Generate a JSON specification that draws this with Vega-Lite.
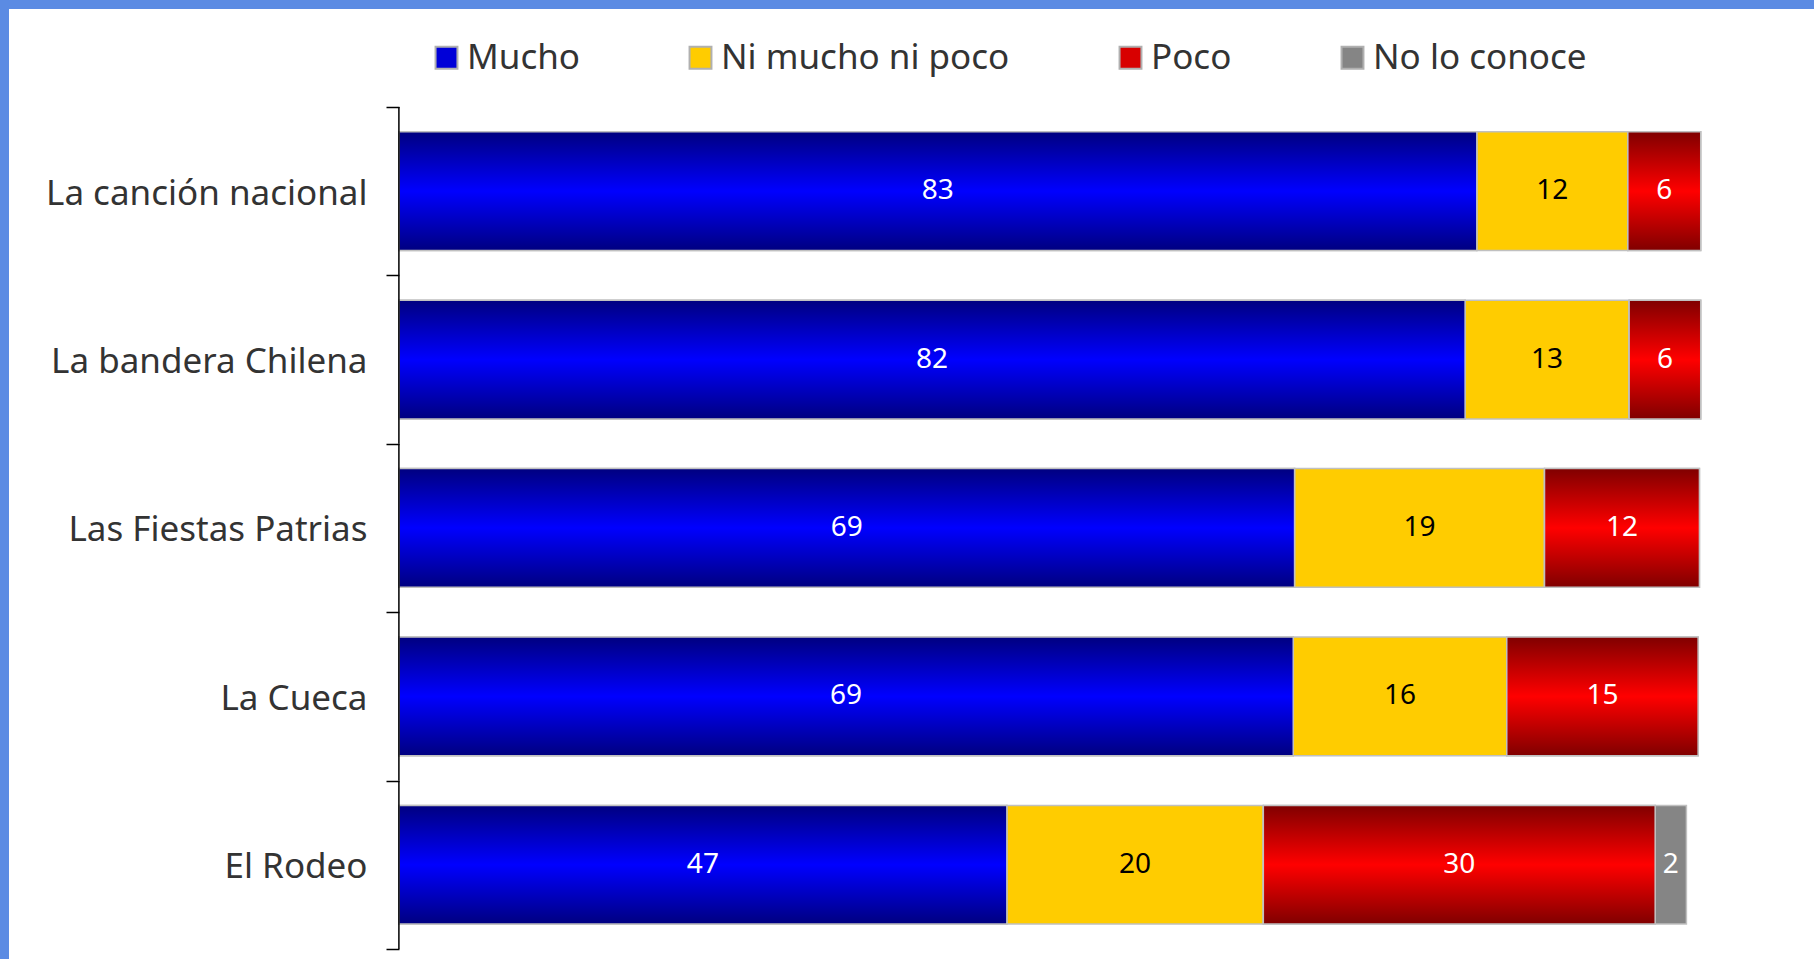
{
  "$schema": "https://vega.github.io/schema/vega-lite/v6.json",
  "width": 1805,
  "height": 950,
  "autosize": {"type": "none"},
  "padding": {"left": 9, "top": 9, "right": 0, "bottom": 0},
  "background": "#5B8BE3",
  "config": {"view": {"fill": "white", "stroke": null}, "font": "Noto Sans"},
  "data": {"values": [
    {"cat": "La canción nacional", "resp": "Mucho", "orden": 1, "value": 82.8},
    {"cat": "La canción nacional", "resp": "Ni mucho ni poco", "orden": 2, "value": 11.6},
    {"cat": "La canción nacional", "resp": "Poco", "orden": 3, "value": 5.6},
    {"cat": "La bandera Chilena", "resp": "Mucho", "orden": 1, "value": 81.9},
    {"cat": "La bandera Chilena", "resp": "Ni mucho ni poco", "orden": 2, "value": 12.6},
    {"cat": "La bandera Chilena", "resp": "Poco", "orden": 3, "value": 5.5},
    {"cat": "Las Fiestas Patrias", "resp": "Mucho", "orden": 1, "value": 68.8},
    {"cat": "Las Fiestas Patrias", "resp": "Ni mucho ni poco", "orden": 2, "value": 19.2},
    {"cat": "Las Fiestas Patrias", "resp": "Poco", "orden": 3, "value": 11.9},
    {"cat": "La Cueca", "resp": "Mucho", "orden": 1, "value": 68.7},
    {"cat": "La Cueca", "resp": "Ni mucho ni poco", "orden": 2, "value": 16.4},
    {"cat": "La Cueca", "resp": "Poco", "orden": 3, "value": 14.7},
    {"cat": "El Rodeo", "resp": "Mucho", "orden": 1, "value": 46.7},
    {"cat": "El Rodeo", "resp": "Ni mucho ni poco", "orden": 2, "value": 19.7},
    {"cat": "El Rodeo", "resp": "Poco", "orden": 3, "value": 30.1},
    {"cat": "El Rodeo", "resp": "No lo conoce", "orden": 4, "value": 2.4}
  ]},
  "transform": [
    {"stack": "value", "groupby": ["cat"], "sort": [{"field": "orden", "order": "ascending"}], "as": ["v0", "v1"]},
    {"calculate": "(datum.v0 + datum.v1) / 2", "as": "mid"}
  ],
  "encoding": {
    "y": {
      "field": "cat",
      "type": "nominal",
      "sort": ["La canción nacional", "La bandera Chilena", "Las Fiestas Patrias", "La Cueca", "El Rodeo"],
      "title": null,
      "scale": {"paddingInner": 0, "paddingOuter": 0.3206, "align": 0.907},
      "axis": {
        "orient": "left",
        "offset": -390,
        "domain": false,
        "tickBand": "extent",
        "tickSize": 13,
        "tickColor": "black",
        "tickWidth": 1.5,
        "labelFont": "Noto Sans",
        "labelFontSize": 35,
        "labelColor": "#333333",
        "labelPadding": 19,
        "labelLimit": 600,
        "labelOffset": 2,
        "title": null
      }
    }
  },
  "layer": [
    {
      "mark": {"type": "bar", "height": {"band": 0.705}, "stroke": "#c0c0c0", "strokeWidth": 1.5},
      "encoding": {
        "x": {"field": "v0", "type": "quantitative", "scale": {"domain": [-29.95, 108.7], "nice": false, "zero": false}, "axis": null},
        "x2": {"field": "v1"},
        "color": {
          "field": "resp",
          "type": "nominal",
          "scale": {
            "domain": ["Mucho", "Ni mucho ni poco", "Poco", "No lo conoce"],
            "range": ["#0000D8", "#FFCC00", "#D80000", "#858585"]
          },
          "legend": {
            "title": null,
            "orient": "none",
            "legendX": 420,
            "legendY": 31,
            "direction": "horizontal",
            "columns": 4,
            "symbolType": "square",
            "symbolSize": 480,
            "symbolStrokeWidth": 2,
            "symbolStrokeColor": "#b0b0b0",
            "labelFont": "Noto Sans",
            "labelFontSize": 35,
            "labelColor": "#333333",
            "labelOffset": 3,
            "labelLimit": 600,
            "columnPadding": 103,
            "padding": 0
          }
        }
      }
    },
    {
      "transform": [{"filter": "datum.resp === 'Mucho'"}],
      "mark": {
        "type": "bar",
        "height": {"band": 0.705},
        "stroke": "#c0c0c0",
        "strokeWidth": 1.5,
        "fill": {"gradient": "linear", "x1": 0, "y1": 0, "x2": 0, "y2": 1, "stops": [{"offset": 0, "color": "#000080"}, {"offset": 0.5, "color": "#0000FF"}, {"offset": 1, "color": "#000080"}]}
      },
      "encoding": {
        "x": {"field": "v0", "type": "quantitative"},
        "x2": {"field": "v1"}
      }
    },
    {
      "transform": [{"filter": "datum.resp === 'Poco'"}],
      "mark": {
        "type": "bar",
        "height": {"band": 0.705},
        "stroke": "#c0c0c0",
        "strokeWidth": 1.5,
        "fill": {"gradient": "linear", "x1": 0, "y1": 0, "x2": 0, "y2": 1, "stops": [{"offset": 0, "color": "#800000"}, {"offset": 0.5, "color": "#FF0000"}, {"offset": 1, "color": "#800000"}]}
      },
      "encoding": {
        "x": {"field": "v0", "type": "quantitative"},
        "x2": {"field": "v1"}
      }
    },
    {
      "mark": {"type": "text", "font": "Noto Sans", "fontSize": 28, "baseline": "middle", "align": "center"},
      "encoding": {
        "x": {"field": "mid", "type": "quantitative"},
        "text": {"field": "value", "type": "quantitative", "format": ".0f"},
        "color": {"condition": {"test": "datum.resp === 'Ni mucho ni poco'", "value": "#000000"}, "value": "#FFFFFF"}
      }
    },
    {
      "transform": [{"filter": "datum.orden === 1"}],
      "mark": {"type": "rect", "filled": false, "color": "#000000", "strokeWidth": 1.5},
      "encoding": {
        "x": {"datum": 0, "type": "quantitative"},
        "x2": {"datum": 0}
      }
    }
  ]
}
